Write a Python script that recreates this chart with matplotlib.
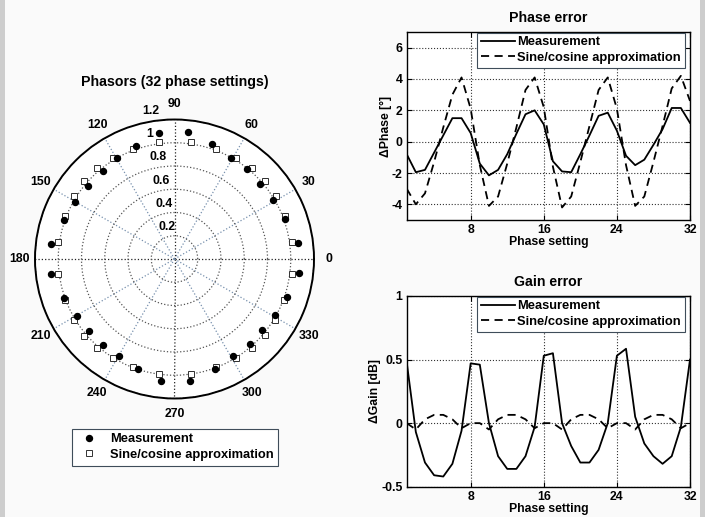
import numpy as np
import matplotlib
matplotlib.use('Agg')
import matplotlib.pyplot as plt
from matplotlib.lines import Line2D
from matplotlib.patches import Rectangle

plt.rcParams['font.family'] = ['Liberation Sans', 'DejaVu Sans']
plt.rcParams['font.weight'] = 'bold'
plt.rcParams['axes.unicode_minus'] = False

# ---- data ----
settings = np.arange(1, 33)

phase_meas = [-0.8, -1.95, -1.8, -0.7, 0.4, 1.5, 1.5, 0.55, -1.4, -2.15, -1.8, -0.8,
              0.5, 1.75, 2.0, 1.1, -1.25, -1.9, -1.95, -0.8, 0.4, 1.65, 1.85, 0.7,
              -0.9, -1.5, -1.15, -0.2, 0.8, 2.15, 2.15, 1.2]
phase_approx = [-3.0, -4.0, -3.3, -1.3, 0.9, 3.0, 4.1, 2.1, -1.5, -4.1, -3.5, -1.4,
                0.9, 3.3, 4.1, 2.2, -1.6, -4.2, -3.5, -1.3, 1.0, 3.3, 4.1, 2.1,
                -1.5, -4.1, -3.5, -1.3, 1.0, 3.4, 4.2, 2.6]

gain_meas = [0.48, -0.07, -0.31, -0.41, -0.42, -0.32, -0.06, 0.47, 0.46, 0.0, -0.26, -0.36,
             -0.36, -0.26, -0.03, 0.53, 0.55, 0.0, -0.18, -0.31, -0.31, -0.21, 0.0, 0.53,
             0.585, 0.05, -0.16, -0.26, -0.32, -0.26, -0.03, 0.5]
gain_approx = [0.0, -0.05, 0.03, 0.065, 0.065, 0.03, -0.04, 0.0, 0.0, -0.05, 0.03, 0.065,
               0.065, 0.03, -0.04, 0.0, 0.0, -0.05, 0.03, 0.065, 0.065, 0.03, -0.04, 0.0,
               0.0, -0.05, 0.03, 0.065, 0.065, 0.03, -0.04, 0.0]

# phasors (angle in degrees, magnitude)
meas_angle = [7.2, 19.7, 30.8, 41.0, 51.2, 61.0, 71.9, 83.9, 96.9, 108.8, 119.9, 129.1,
              139.8, 150.0, 160.7, 173.1, 187.1, 199.3, 210.4, 220.2, 230.4, 240.2, 251.5, 263.7,
              277.4, 290.3, 301.1, 311.4, 320.9, 330.8, 341.3, 353.7]
meas_radius = [1.071, 1.013, 0.986, 0.979, 0.990, 0.996, 1.038, 1.101, 1.094, 1.027, 0.999, 0.979,
               0.977, 0.986, 1.007, 1.073, 1.070, 1.005, 0.975, 0.960, 0.964, 0.965, 0.998, 1.056,
               1.058, 1.006, 0.978, 0.978, 0.973, 0.993, 1.019, 1.078]
approx_angle = [8.2, 21.3, 31.8, 40.8, 49.4, 58.5, 69.1, 81.8, 97.5, 110.9, 121.5, 130.5,
                139.2, 148.0, 158.6, 171.7, 187.2, 200.7, 211.1, 220.4, 228.9, 238.2, 248.8, 262.2,
                278.3, 291.2, 302.0, 311.3, 319.9, 329.0, 339.6, 352.9]
approx_radius = [1.021, 1.018, 1.024, 1.028, 1.028, 1.016, 1.010, 1.019, 1.018, 1.010, 1.017, 1.026,
                 1.026, 1.019, 1.012, 1.016, 1.012, 1.006, 1.010, 1.019, 1.013, 1.002, 0.994, 1.001,
                 1.002, 0.994, 1.004, 1.015, 1.019, 1.012, 1.005, 1.018]

r_ticks = [0.2, 0.4, 0.6, 0.8, 1.0, 1.2]
r_tick_labels = ['0.2', '0.4', '0.6', '0.8', '1', '1.2']
theta_ticks = list(range(0, 360, 30))

# ---- figure ----
W, H = 705, 517
fig = plt.figure(figsize=(W / 100, H / 100), dpi=100, facecolor='#fafafa')


def frac(x0, y0, x1, y1):
    return [x0 / W, 1 - y1 / H, (x1 - x0) / W, (y1 - y0) / H]


# grey page borders
fig.add_artist(Rectangle((0, 0), 5 / W, 1, transform=fig.transFigure, color='#cdcdcd', lw=0))
fig.add_artist(Rectangle((1 - 5 / W, 0), 5 / W, 1, transform=fig.transFigure, color='#cdcdcd', lw=0))

FS = 8.8
LFS = 9.3
LEG_EDGE = '#3f4d5a'

# ---- polar plot ----
ax = fig.add_axes(frac(35, 119.5, 314, 398.5), projection='polar')
ax.set_facecolor('white')
ax.set_ylim(0, 1.2)
ax.set_rticks(r_ticks)
ax.set_yticklabels([])
ax.set_thetagrids(theta_ticks, labels=[str(t) for t in theta_ticks])
ax.tick_params(axis='x', pad=0.5, labelsize=FS)
ax.xaxis.grid(True, ls=':', color='#7790ad', lw=0.9)
ax.yaxis.grid(True, ls=':', color='#555555', lw=0.9)
for k, gl in enumerate(ax.xaxis.get_gridlines()):
    if k % 3 == 0:
        gl.set_color('#222222')
ax.spines['polar'].set_linewidth(1.4)

for v, lab in zip(r_ticks, r_tick_labels):
    x = -(0.110 + 0.136 * v)
    y = v + 0.074
    ax.text(np.arctan2(y, x), np.hypot(x, y), lab, ha='left', va='center', fontsize=FS)

ax.plot(np.deg2rad(meas_angle), meas_radius, 'o', ms=4.3, color='k', ls='none', zorder=4)
ax.plot(np.deg2rad(approx_angle), approx_radius, 's', ms=3.8, mfc='white', mec='#333333',
        mew=0.7, ls='none', zorder=3)

fig.text(174.5 / W, 1 - 82 / H, 'Phasors (32 phase settings)', ha='center', va='center',
         fontsize=10.2, fontweight='bold')

handles = [Line2D([], [], marker='o', ls='none', color='k', ms=4.3),
           Line2D([], [], marker='s', ls='none', mfc='white', mec='#333333', mew=0.7, ms=3.8)]
leg = fig.legend(handles, ['Measurement', 'Sine/cosine approximation'], loc='center',
                 bbox_to_anchor=(174.7 / W, 1 - 447 / H), fontsize=LFS, fancybox=False,
                 edgecolor=LEG_EDGE, framealpha=1, labelspacing=0.3, handletextpad=0.6,
                 borderpad=0.35, borderaxespad=0)
leg.get_frame().set_linewidth(0.8)


# ---- cartesian panels ----
def panel(rect, meas, approx, ylim, yticks, yticklabels, title, ylabel):
    a = fig.add_axes(rect)
    a.set_facecolor('white')
    a.plot(settings, meas, color='k', lw=1.3, label='Measurement')
    a.plot(settings, approx, color='k', lw=1.3, ls='--', dashes=(4.5, 3),
           label='Sine/cosine approximation')
    a.set_xlim(1, 32)
    a.set_ylim(*ylim)
    a.set_xticks([8, 16, 24, 32])
    a.set_yticks(yticks)
    a.set_yticklabels(yticklabels)
    a.grid(True, ls=':', color='#333333', lw=0.8)
    a.tick_params(direction='in', top=True, right=True, length=3.5, labelsize=FS, pad=3)
    for s in a.spines.values():
        s.set_linewidth(1.0)
    a.set_title(title, fontsize=10.2, fontweight='bold', pad=7)
    a.set_xlabel('Phase setting', fontsize=FS, fontweight='bold', labelpad=0)
    a.set_ylabel(ylabel, fontsize=FS, fontweight='bold', labelpad=0)
    lg = a.legend(loc='upper right', bbox_to_anchor=(0.982, 0.997), borderaxespad=0,
                  fontsize=LFS, fancybox=False, edgecolor=LEG_EDGE, framealpha=1,
                  handlelength=2.6, handletextpad=0.2, labelspacing=0.25, borderpad=0.3)
    lg.get_frame().set_linewidth(0.8)
    return a


panel(frac(406.7, 32, 690, 220), phase_meas, phase_approx, (-5, 7),
      [-4, -2, 0, 2, 4, 6], ['-4', '-2', '0', '2', '4', '6'], 'Phase error', '\u0394Phase [\u00b0]')
panel(frac(406.7, 296, 690, 486.7), gain_meas, gain_approx, (-0.5, 1),
      [-0.5, 0, 0.5, 1], ['-0.5', '0', '0.5', '1'], 'Gain error', '\u0394Gain [dB]')

fig.savefig('out.png', dpi=100, facecolor=fig.get_facecolor())
